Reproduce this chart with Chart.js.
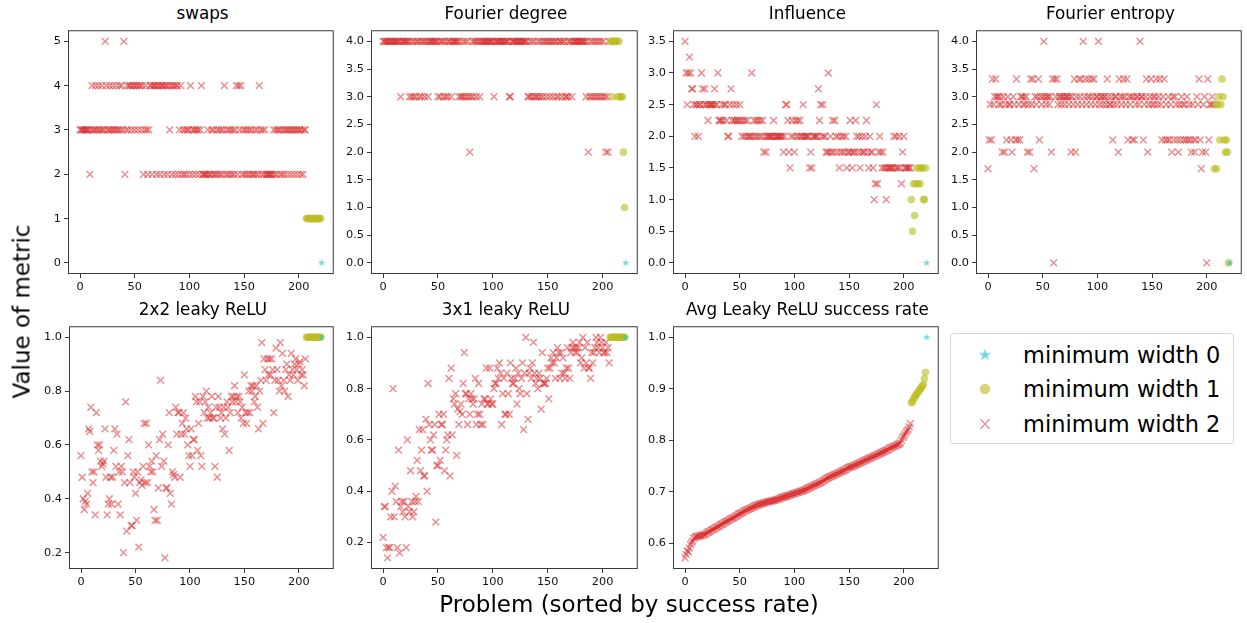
<!DOCTYPE html>
<html>
<head>
<meta charset="utf-8">
<script src="https://cdn.jsdelivr.net/npm/chart.js@4.4.1/dist/chart.umd.min.js"></script>
<style>
  body { margin: 0; background: #fff; width: 1247px; height: 623px; position: relative; overflow: hidden; font-family: 'DejaVu Sans', sans-serif; color: #000; }
  .panel { position: absolute; }
  .title { position: absolute; font-size: 16.8px; line-height: 16.8px; white-space: nowrap; transform: translateX(-50%); }
  .axis-label { position: absolute; font-size: 23px; line-height: 23px; white-space: nowrap; text-align: center; }
  #legend { position: absolute; left: 950px; top: 333px; width: 282px; height: 109px; border: 1px solid #d6d6d6; border-radius: 4px; background: #fff; }
  .entry { position: absolute; left: 0; height: 30px; width: 282px; }
  .entry canvas { position: absolute; left: 22px; top: 0; }
  .entry span { position: absolute; left: 72px; top: 3px; font-size: 22.5px; line-height: 24px; white-space: nowrap; }
</style>
</head>
<body>
<div id="figure"></div>
<div class="axis-label" style="left:-128px; top:300px; width:300px; transform:rotate(-90deg);">Value of metric</div>
<div class="axis-label" style="left:429px; top:593px; width:400px;">Problem (sorted by success rate)</div>
<div id="legend">
  <div class="entry" style="top:6px"><canvas id="mk0" width="24" height="30"></canvas><span>minimum width 0</span></div>
  <div class="entry" style="top:40px"><canvas id="mk1" width="24" height="30"></canvas><span>minimum width 1</span></div>
  <div class="entry" style="top:75px"><canvas id="mk2" width="24" height="30"></canvas><span>minimum width 2</span></div>
</div>
<script>
// problems are sorted by success rate; minimum width 2 first, then width 1, then the single width 0 problem
const xTicks = [0, 50, 100, 150, 200];

const swapsW2 = [
  3,3,3,3,3,3,3,3,3,2, 3,4,3,3,4,3,3,4,3,3, 4,3,3,5,4,3,3,4,3,3, 4,3,3,4,3,3,4,3,4,3,
  5,2,3,4,3,4,4,3,4,4, 3,4,4,3,4,4,3,4,2,3, 4,3,2,3,4,4,2,4,4,4, 2,4,4,2,4,4,4,2,4,4,
  2,4,3,4,2,4,4,2,4,4, 2,3,4,2,3,2,3,2,3,3, 2,4,3,2,3,3,2,3,3,2, 3,4,2,2,2,2,2,3,2,2,
  3,2,3,2,2,3,2,3,2,3, 2,3,4,2,3,2,3,2,3,2, 3,2,3,4,2,4,3,4,2,3, 2,3,2,3,2,3,2,3,2,2,
  3,2,3,2,4,3,2,3,2,3, 2,2,2,2,2,2,2,3,2,3, 2,3,3,2,3,2,3,2,3,3, 2,3,3,2,3,3,2,3,3,2,
  3,3,2,3,2,3,3
];
const swapsW1 = [1,1,1,1,1,1,1,1,1,1,1,1,1,1];
const swapsW0 = [0];
const swapsTicks = [0, 1, 2, 3, 4, 5];

const degreeW2 = [
  4,4,4,4,4,4,4,4,4,4, 4,4,4,4,4,4,3,4,4,4, 4,4,4,4,3,4,3,4,3,4, 3,4,4,3,4,3,4,4,3,4,
  4,3,4,4,4,4,4,4,4,4, 3,4,3,4,4,3,4,3,4,3, 4,4,3,4,4,4,4,4,4,3, 4,3,3,4,3,4,3,4,3,2,
  3,4,3,4,4,3,4,4,3,4, 4,4,4,4,4,4,4,4,4,4, 4,3,4,4,4,4,4,4,4,4, 4,4,4,4,4,3,3,4,4,4,
  4,4,4,4,4,4,4,4,4,4, 4,4,3,3,4,3,4,3,4,3, 3,4,3,4,3,4,3,4,4,3, 4,4,3,4,4,3,4,4,3,4,
  3,4,4,3,4,4,3,3,4,3, 4,4,3,4,4,4,4,4,4,4, 4,4,4,4,4,3,4,2,3,4, 3,4,3,4,3,4,3,4,3,4,
  3,4,3,2,3,2,4
];
const degreeW1 = [4,4,3,4,4,4,4,3,4,3,3,3,2,1];
const degreeW0 = [0];
const degreeTicks = [0, 0.5, 1, 1.5, 2, 2.5, 3, 3.5, 4];

const influenceW2 = [
  3.5,3.0,2.5,3.0,3.25,3.0,2.75,2.75,2.5,2.0, 2.5,2.5,2.0,2.5,2.5,3.0,2.75,2.5,2.75,2.5,
  2.5,2.25,2.5,2.5,2.5,2.5,2.5,2.75,2.5,2.5, 3.0,2.25,2.25,2.25,2.5,2.25,2.5,2.5,2.25,2.0,
  2.0,2.5,2.75,2.25,2.5,2.25,2.25,2.5,2.25,2.25, 2.5,2.25,2.0,2.25,2.0,2.25,2.0,2.25,2.0,2.0,
  2.0,3.0,2.0,2.25,2.0,2.25,2.0,2.25,2.0,2.25, 2.0,2.25,1.75,2.0,1.75,2.0,2.0,2.0,2.0,2.0,
  2.0,2.25,2.0,2.0,2.0,2.0,2.0,2.0,2.0,2.0, 1.75,2.0,2.5,2.5,2.25,1.75,1.5,2.0,2.25,2.0,
  1.75,2.25,2.0,2.25,2.0,2.25,2.0,2.0,2.5,2.0, 2.0,2.0,2.0,2.0,1.5,1.75,1.5,2.0,2.0,2.0,
  2.0,2.0,2.75,2.25,2.5,2.0,2.5,2.0,2.0,1.75, 1.75,3.0,1.75,2.0,1.75,2.25,1.75,2.25,2.0,1.75,
  2.0,1.5,1.75,2.0,1.75,2.0,1.75,2.0,1.5,1.75, 1.75,2.25,1.75,1.5,1.75,1.75,2.25,2.0,1.75,2.0,
  1.5,1.75,2.0,1.75,1.75,2.0,2.25,1.75,1.5,2.0, 1.75,1.75,1.5,1.0,1.25,2.5,1.25,1.75,2.0,1.75,
  1.5,1.75,1.5,1.5,1.0,1.5,1.5,1.5,1.5,1.5, 1.5,2.0,1.5,2.0,1.5,1.5,2.0,1.5,1.25,1.75,
  2.0,1.5,1.5,1.5,1.5,1.5,1.5
];
const influenceW1 = [1.0,0.5,1.25,0.75,1.25,1.5,1.25,1.5,1.25,1.5,1.5,1.0,1.0,1.5];
const influenceW0 = [0];
const influenceTicks = [0, 0.5, 1, 1.5, 2, 2.5, 3, 3.5];

const entropyW2 = [
  1.70,2.22,2.86,2.22,3.32,2.86,3.00,3.32,3.00,3.00, 2.86,3.00,2.86,2.00,3.00,2.00,2.86,2.22,3.00,2.86,
  2.86,2.22,2.00,3.00,2.86,2.22,3.32,2.22,2.86,2.22, 3.00,3.00,2.86,3.00,2.86,3.00,2.00,2.86,2.00,3.32,
  2.86,3.32,1.70,3.00,2.86,3.00,3.32,2.22,3.00,2.86, 3.00,4.00,3.00,2.86,3.00,3.00,2.86,3.00,2.00,3.32,
  0.00,3.32,3.00,3.32,2.86,3.00,3.00,2.86,3.00,3.00, 2.86,3.00,3.00,3.00,2.86,3.00,2.00,3.00,2.86,3.32,
  2.00,3.00,2.86,3.32,3.00,3.32,2.86,4.00,3.00,3.32, 2.86,3.00,3.32,3.00,2.86,3.32,3.00,3.32,2.86,3.00,
  3.00,4.00,2.86,3.00,3.00,2.86,3.00,3.00,2.86,3.32, 3.00,2.86,2.86,3.00,2.22,2.86,3.00,3.00,2.86,2.00,
  3.32,3.00,2.86,3.00,3.32,3.00,2.86,3.32,2.22,3.00, 2.86,3.00,2.22,3.00,2.22,2.86,3.00,3.00,2.86,4.00,
  3.00,3.00,2.22,2.86,3.00,3.32,2.00,2.86,3.00,3.32, 2.86,3.00,2.86,3.00,3.32,2.86,3.00,3.32,2.86,2.22,
  3.00,3.32,2.22,2.86,2.22,3.00,2.22,2.86,2.00,3.00, 2.22,3.00,2.86,2.22,2.00,2.86,2.22,3.00,2.86,2.22,
  2.86,2.22,3.00,2.22,2.86,2.22,2.00,2.86,2.22,2.00, 2.22,3.00,2.86,3.32,2.22,1.70,2.00,2.86,3.00,2.00,
  0.00,3.32,2.22,2.86,2.86,3.00,2.86
];
const entropyW1 = [1.70,2.86,1.70,2.86,3.00,2.22,2.86,3.32,3.00,2.22,2.00,2.22,2.00,0.00];
const entropyW0 = [0];
const entropyTicks = [0, 0.5, 1, 1.5, 2, 2.5, 3, 3.5, 4];

const relu2x2W2 = [
  0.56,0.48,0.40,0.36,0.39,0.38,0.42,0.66,0.65,0.74, 0.50,0.46,0.50,0.34,0.72,0.60,0.58,0.60,0.54,0.52,
  0.53,0.54,0.66,0.48,0.34,0.38,0.40,0.48,0.38,0.48, 0.58,0.66,0.52,0.64,0.38,0.50,0.34,0.52,0.50,0.20,
  0.46,0.76,0.28,0.56,0.62,0.46,0.30,0.30,0.50,0.48, 0.42,0.32,0.50,0.22,0.46,0.47,0.45,0.52,0.68,0.46,
  0.68,0.46,0.60,0.52,0.50,0.54,0.50,0.36,0.32,0.56, 0.32,0.44,0.62,0.84,0.52,0.64,0.54,0.18,0.44,0.44,
  0.60,0.72,0.42,0.38,0.50,0.49,0.48,0.74,0.64,0.72, 0.72,0.48,0.64,0.68,0.72,0.64,0.70,0.66,0.60,0.56,
  0.52,0.66,0.56,0.62,0.62,0.78,0.76,0.58,0.68,0.76, 0.56,0.52,0.78,0.72,0.76,0.80,0.70,0.74,0.70,0.72,
  0.78,0.70,0.70,0.52,0.74,0.48,0.78,0.74,0.70,0.72, 0.66,0.74,0.64,0.70,0.76,0.74,0.58,0.72,0.78,0.76,
  0.78,0.82,0.76,0.78,0.72,0.78,0.76,0.70,0.74,0.68, 0.86,0.72,0.68,0.72,0.80,0.72,0.82,0.80,0.82,0.76,
  0.78,0.82,0.74,0.66,0.80,0.84,0.98,0.68,0.92,0.88, 0.84,0.92,0.86,0.92,0.86,0.92,0.88,0.72,0.84,0.96,
  0.88,0.84,0.80,0.98,0.82,0.94,0.84,0.80,0.88,0.90, 0.78,0.86,0.84,0.94,0.88,0.86,0.90,0.92,0.88,0.84,
  0.90,0.91,0.86,0.88,0.86,0.82,0.92
];
const relu2x2W1 = [1,1,1,1,1,1,1,1,1,1,1,1,1,1];
const relu2x2W0 = [1];
const reluTicks = [0.2, 0.4, 0.6, 0.8, 1.0];

const relu3x1W2 = [
  0.22,0.34,0.34,0.18,0.14,0.18,0.18,0.30,0.40,0.80, 0.30,0.42,0.36,0.18,0.56,0.16,0.34,0.36,0.32,0.36,
  0.30,0.18,0.60,0.34,0.32,0.48,0.36,0.30,0.32,0.36, 0.38,0.52,0.36,0.64,0.48,0.56,0.64,0.46,0.46,0.68,
  0.40,0.82,0.66,0.60,0.56,0.56,0.62,0.66,0.28,0.50, 0.50,0.70,0.52,0.66,0.66,0.70,0.48,0.56,0.60,0.62,
  0.84,0.46,0.88,0.62,0.76,0.74,0.78,0.54,0.72,0.66, 0.71,0.74,0.70,0.82,0.94,0.78,0.78,0.66,0.76,0.70,
  0.78,0.76,0.74,0.76,0.84,0.66,0.70,0.82,0.70,0.66, 0.74,0.66,0.76,0.76,0.88,0.74,0.74,0.88,0.76,0.74,
  0.74,0.80,0.82,0.82,0.88,0.84,0.90,0.86,0.66,0.78, 0.84,0.70,0.70,0.86,0.78,0.70,0.90,0.84,0.82,0.82,
  0.84,0.88,0.74,0.86,0.80,0.78,0.84,0.90,0.64,0.86, 1.00,0.78,0.68,0.86,0.88,0.84,0.90,0.98,0.86,0.82,
  0.84,0.80,0.86,0.84,0.72,0.94,0.82,0.82,0.82,0.84, 0.88,0.76,0.88,0.92,0.90,0.94,0.90,0.84,0.92,0.96,
  0.94,0.84,0.94,0.86,0.92,0.86,0.84,0.88,0.96,0.88, 0.84,0.94,0.96,0.98,0.96,0.94,0.96,0.94,0.96,0.98,
  0.90,0.92,1.00,0.88,0.96,0.90,0.98,0.88,0.88,0.84, 0.94,0.90,0.94,0.96,1.00,0.98,0.96,0.94,1.00,0.98,
  0.96,0.94,0.94,0.98,0.94,0.96,0.90
];
const relu3x1W1 = [1,1,1,1,1,1,1,1,1,1,1,1,1,1];
const relu3x1W0 = [1];

const avgW2 = [
  0.571,0.578,0.585,0.583,0.590,0.597,0.601,0.604,0.609,0.611, 0.613,0.612,0.614,0.613,0.615,0.614,0.616,0.617,0.616,0.618,
  0.620,0.621,0.622,0.623,0.625,0.626,0.627,0.628,0.630,0.631, 0.632,0.633,0.635,0.636,0.637,0.638,0.640,0.641,0.642,0.643,
  0.644,0.646,0.647,0.648,0.649,0.650,0.652,0.653,0.654,0.656, 0.657,0.658,0.659,0.660,0.662,0.663,0.664,0.665,0.666,0.667,
  0.668,0.669,0.670,0.671,0.672,0.673,0.674,0.674,0.675,0.676, 0.676,0.677,0.678,0.678,0.679,0.680,0.680,0.681,0.681,0.682,
  0.682,0.683,0.683,0.684,0.685,0.685,0.686,0.687,0.688,0.689, 0.689,0.690,0.691,0.691,0.692,0.693,0.693,0.694,0.695,0.696,
  0.696,0.697,0.698,0.698,0.699,0.700,0.701,0.701,0.702,0.703, 0.704,0.705,0.706,0.707,0.708,0.709,0.710,0.711,0.712,0.713,
  0.714,0.715,0.716,0.717,0.718,0.719,0.721,0.722,0.723,0.725, 0.726,0.727,0.728,0.729,0.730,0.731,0.732,0.733,0.734,0.735,
  0.736,0.737,0.738,0.739,0.740,0.741,0.742,0.743,0.745,0.746, 0.747,0.748,0.748,0.749,0.750,0.751,0.752,0.753,0.754,0.755,
  0.756,0.757,0.758,0.759,0.760,0.761,0.762,0.763,0.764,0.765, 0.766,0.767,0.768,0.769,0.770,0.771,0.772,0.773,0.774,0.775,
  0.776,0.777,0.778,0.779,0.780,0.781,0.782,0.784,0.785,0.786, 0.787,0.788,0.789,0.790,0.791,0.792,0.793,0.795,0.800,0.805,
  0.808,0.811,0.815,0.818,0.821,0.826,0.832
];
const avgW1 = [0.873,0.874,0.880,0.884,0.887,0.890,0.893,0.896,0.899,0.902,0.905,0.908,0.920,0.932];
const avgW0 = [1.0];
const avgTicks = [0.6, 0.7, 0.8, 0.9, 1.0];

const RED = 'rgba(214,39,40,0.52)';
const OLIVE = 'rgba(188,189,34,0.62)';
const CYAN = 'rgba(23,190,207,0.6)';
const FONT = "'DejaVu Sans', sans-serif";

// five-pointed star marker, chart.js only has an asterisk style
function starMarker(r, color) {
  const c = document.createElement('canvas');
  const s = Math.ceil(r * 2 + 2);
  c.width = c.height = s;
  const g = c.getContext('2d');
  g.fillStyle = color;
  g.beginPath();
  for (let k = 0; k < 10; k++) {
    const rr = k % 2 ? r * 0.4 : r;
    const a = -Math.PI / 2 + k * Math.PI / 5;
    g.lineTo(s / 2 + rr * Math.cos(a), s / 2 + rr * Math.sin(a));
  }
  g.closePath();
  g.fill();
  return c;
}
const smallStar = starMarker(4, CYAN);
const bigStar = starMarker(6.5, CYAN);

function pts(values, start) {
  return values.map((v, i) => ({ x: start + i, y: v }));
}

function padRange(values) {
  const lo = Math.min(...values), hi = Math.max(...values);
  const m = (hi - lo) * 0.05;
  return [lo - m, hi + m];
}

// full box around the plot area
const frame = {
  id: 'frame',
  afterDatasetsDraw(chart) {
    const { ctx, chartArea: a } = chart;
    ctx.save();
    ctx.strokeStyle = '#3a3a3a';
    ctx.lineWidth = 1;
    ctx.strokeRect(a.left + 0.5, a.top + 0.5, a.right - a.left - 1, a.bottom - a.top - 1);
    ctx.restore();
  }
};

const panels = [
  { title: 'swaps', box: [68, 27, 337, 274], w2: swapsW2, w1: swapsW1, w0: swapsW0, ticks: swapsTicks, digits: 0 },
  { title: 'Fourier degree', box: [371, 27, 641, 274], w2: degreeW2, w1: degreeW1, w0: degreeW0, ticks: degreeTicks, digits: 1 },
  { title: 'Influence', box: [673, 27, 942, 274], w2: influenceW2, w1: influenceW1, w0: influenceW0, ticks: influenceTicks, digits: 1 },
  { title: 'Fourier entropy', box: [976, 27, 1245, 274], w2: entropyW2, w1: entropyW1, w0: entropyW0, ticks: entropyTicks, digits: 1 },
  { title: '2x2 leaky ReLU', box: [69, 323, 337, 569], w2: relu2x2W2, w1: relu2x2W1, w0: relu2x2W0, ticks: reluTicks, digits: 1 },
  { title: '3x1 leaky ReLU', box: [371, 323, 641, 569], w2: relu3x1W2, w1: relu3x1W1, w0: relu3x1W0, ticks: reluTicks, digits: 1 },
  { title: 'Avg Leaky ReLU success rate', box: [673, 323, 942, 569], w2: avgW2, w1: avgW1, w0: avgW0, ticks: avgTicks, digits: 1 }
];

const Y_W = 44, X_H = 30, PAD_T = 3, PAD_R = 3;
const fig = document.getElementById('figure');

panels.forEach(p => {
  const [L, T, R, B] = p.box;
  const div = document.createElement('div');
  div.className = 'panel';
  div.style.left = (L - Y_W) + 'px';
  div.style.top = (T - PAD_T) + 'px';
  div.style.width = (R - L + Y_W + PAD_R) + 'px';
  div.style.height = (B - T + PAD_T + X_H) + 'px';
  const canvas = document.createElement('canvas');
  div.appendChild(canvas);
  fig.appendChild(div);

  const title = document.createElement('div');
  title.className = 'title';
  title.textContent = p.title;
  title.style.left = ((L + R) / 2) + 'px';
  title.style.top = (T - 22.3) + 'px';
  fig.appendChild(title);

  const n2 = p.w2.length, n1 = p.w1.length;
  const all = p.w2.concat(p.w1, p.w0);
  const [yMin, yMax] = padRange(all);
  const [xMin, xMax] = padRange([0, n2 + n1 + p.w0.length - 1]);

  const tickFont = { family: FONT, size: 11.3 };
  const axisCommon = {
    type: 'linear',
    grid: { drawOnChartArea: false, drawTicks: true, tickLength: 4, color: '#3a3a3a' },
    border: { display: false },
  };

  new Chart(canvas, {
    type: 'scatter',
    data: {
      datasets: [
        { label: 'minimum width 0', data: pts(p.w0, n2 + n1), pointStyle: smallStar, pointRadius: 4, order: 0 },
        { label: 'minimum width 1', data: pts(p.w1, n2), pointStyle: 'circle', pointRadius: 3.8,
          pointBackgroundColor: OLIVE, pointBorderWidth: 0, pointBorderColor: OLIVE, order: 1 },
        { label: 'minimum width 2', data: pts(p.w2, 0), pointStyle: 'crossRot', pointRadius: 4.8,
          pointBorderColor: RED, pointBackgroundColor: RED, pointBorderWidth: 1.45, order: 2 }
      ]
    },
    options: {
      animation: false,
      responsive: true,
      maintainAspectRatio: false,
      events: [],
      layout: { padding: { top: PAD_T, right: PAD_R, left: 0, bottom: 0 } },
      plugins: { legend: { display: false }, tooltip: { enabled: false } },
      scales: {
        x: Object.assign({}, axisCommon, {
          min: xMin, max: xMax,
          afterBuildTicks: s => { s.ticks = xTicks.map(v => ({ value: v })); },
          afterFit: s => { s.height = X_H; s.paddingLeft = 0; s.paddingRight = 0; },
          ticks: { font: tickFont, color: '#111', padding: 2, autoSkip: false, maxRotation: 0 }
        }),
        y: Object.assign({}, axisCommon, {
          min: yMin, max: yMax,
          afterBuildTicks: s => { s.ticks = p.ticks.map(v => ({ value: v })); },
          afterFit: s => { s.width = Y_W; s.paddingTop = 0; s.paddingBottom = 0; },
          ticks: { font: tickFont, color: '#111', padding: 3, autoSkip: false,
            callback: v => v.toFixed(p.digits) }
        })
      }
    },
    plugins: [frame]
  });
});

// legend markers use the same point styles as the plots
const { drawPoint } = Chart.helpers;
function marker(id, opts, fill, stroke) {
  const ctx = document.getElementById(id).getContext('2d');
  ctx.fillStyle = fill;
  ctx.strokeStyle = stroke;
  ctx.lineWidth = opts.borderWidth || 0;
  drawPoint(ctx, opts, 12, 15);
}
marker('mk0', { pointStyle: bigStar, radius: 6.5, rotation: 0, borderWidth: 0 }, CYAN, CYAN);
marker('mk1', { pointStyle: 'circle', radius: 5.2, rotation: 0, borderWidth: 0 }, OLIVE, OLIVE);
marker('mk2', { pointStyle: 'crossRot', radius: 6.6, rotation: 0, borderWidth: 1.3 }, RED, RED);
</script>
</body>
</html>
